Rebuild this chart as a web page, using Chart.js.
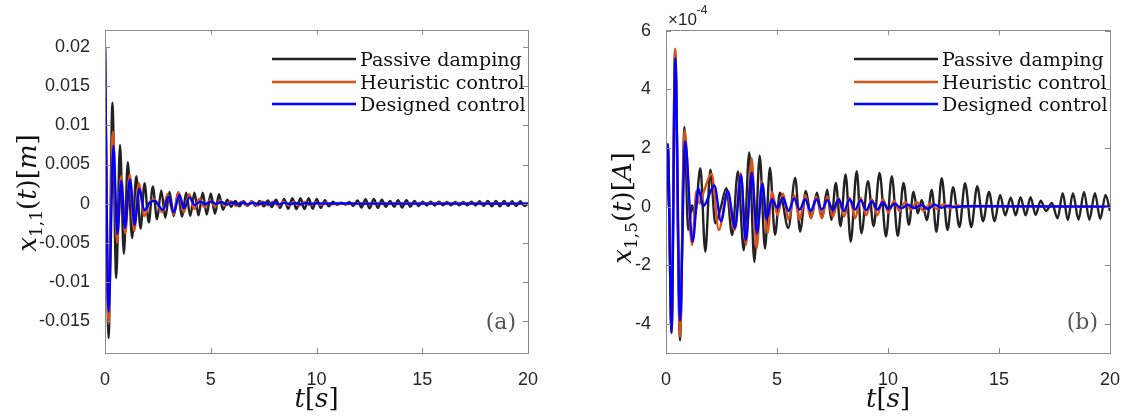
<!DOCTYPE html>
<html><head><meta charset="utf-8">
<script src="https://cdn.jsdelivr.net/npm/chart.js@4.4.1/dist/chart.umd.min.js"></script>
<style>
html,body{margin:0;padding:0;background:#fff;}
#wrap{position:relative;width:1135px;height:418px;overflow:hidden;background:#fff;}
.pane{position:absolute;top:0;height:418px;}
#pa{left:0;width:560px;}
#pb{left:560px;width:575px;}
</style></head><body>
<div id="wrap">
  <div class="pane" id="pa"><canvas id="ca" width="560" height="418"></canvas></div>
  <div class="pane" id="pb"><canvas id="cb" width="575" height="418"></canvas></div>
</div>
<script>
// ---------- shared ----------
const seriesNames = ['Passive damping', 'Heuristic control', 'Designed control'];
const xTicks = [0, 5, 10, 15, 20];

// ---------- panel (a): x_{1,1}(t) [m], values in units of 1e-3 m ----------
const tPassiveA = [0, 0.17, 0.35, 0.53, 0.71, 0.89, 1.08, 1.28, 1.48, 1.68, 1.87, 2.07, 2.26, 2.46, 2.66, 2.85, 3.05, 3.25, 3.45, 3.64,
  3.84, 4.03, 4.23, 4.42, 4.62, 4.81, 5.00, 5.20, 5.39, 5.58, 5.78, 5.97, 6.16, 6.35, 6.55, 6.74, 6.93, 7.12, 7.32, 7.51,
  7.70, 7.89, 8.09, 8.28, 8.47, 8.66, 8.86, 9.05, 9.24, 9.43, 9.63, 9.82, 10.01, 10.20, 10.40, 10.59, 10.78, 10.97, 11.17, 11.36,
  11.55, 11.74, 11.94, 12.13, 12.32, 12.51, 12.71, 12.90, 13.09, 13.28, 13.48, 13.67, 13.86, 14.05, 14.25, 14.44, 14.63, 14.82, 15.02, 15.21,
  15.40, 15.59, 15.79, 15.98, 16.17, 16.36, 16.56, 16.75, 16.94, 17.13, 17.33, 17.52, 17.71, 17.90, 18.10, 18.29, 18.48, 18.67, 18.87, 19.06,
  19.25, 19.44, 19.64, 19.83, 20.0];
const passiveA = [20, -17.2, 12.9, -9.5, 7.5, -6.4, 5.3, -4.4, 3.5, -3.2, 2.6, -2.4, 2.2, -2.0, 1.7, -1.8, 1.5, -1.6, 1.4, -1.7,
  1.4, -1.6, 1.4, -1.5, 1.4, -1.4, 1.3, -1.3, 1.2, -0.8, 0.5, -0.4, 0.35, -0.35, 0.3, -0.3, 0.3, -0.3, 0.35, -0.35,
  0.4, -0.45, 0.5, -0.55, 0.6, -0.65, 0.7, -0.7, 0.7, -0.7, 0.7, -0.65, 0.6, -0.55, 0.45, -0.35, 0.25, -0.15, 0.12, -0.12,
  0.2, -0.3, 0.4, -0.5, 0.55, -0.6, 0.6, -0.55, 0.5, -0.4, 0.35, -0.4, 0.45, -0.5, 0.45, -0.4, 0.35, -0.3, 0.25, -0.25,
  0.25, -0.25, 0.25, -0.2, 0.2, -0.2, 0.2, -0.2, 0.2, -0.2, 0.25, -0.25, 0.3, -0.3, 0.35, -0.35, 0.35, -0.35, 0.35, -0.3,
  0.3, -0.3, 0.3, -0.3, 0];

const tHeuristicA = [0, 0.17, 0.37, 0.57, 0.77, 0.96, 1.17, 1.38, 1.6, 1.86, 2.1, 2.34, 2.72, 2.95, 3.25, 3.47, 3.73, 3.98, 4.22, 4.45,
  4.7, 4.95, 5.2, 5.45, 5.7, 5.95, 6.2, 6.45, 6.7, 6.95, 7.2, 7.45, 7.7, 7.95, 8.2, 8.45, 8.7, 8.95, 9.2, 9.45,
  9.7, 9.95, 10.2, 10.45, 10.7, 11, 11.5, 12, 12.5, 13, 20];
const heuristicA = [20, -15.3, 9.2, -5.0, 3.5, -3.8, 3.7, -3.5, 2.6, -1.6, 0.1, 0.5, -1.1, 1.2, -1.4, 1.5, -1.1, 1.2, -0.7, 0.6,
  -0.45, 0.4, -0.35, 0.35, -0.3, 0.3, -0.3, 0.25, -0.25, 0.25, -0.25, 0.25, -0.2, 0.25, -0.25, 0.25, -0.25, 0.2, -0.25, 0.2,
  -0.2, 0.15, -0.15, 0.12, -0.1, 0.05, -0.05, 0.05, -0.03, 0.02, 0];

const tDesignedA = [0, 0.17, 0.4, 0.58, 0.77, 0.94, 1.18, 1.4, 1.62, 1.86, 2.1, 2.34, 2.74, 3.0, 3.25, 3.52, 3.73, 4.0, 4.25, 4.5,
  4.75, 5.0, 5.25, 5.5, 5.75, 6.0, 6.25, 6.5, 6.75, 7.0, 7.25, 7.5, 7.75, 8.0, 8.25, 8.5, 8.75, 9.0, 9.25, 9.5,
  9.75, 10.0, 10.5, 11, 12, 20];
const designedA = [20, -13.8, 7.4, -3.9, 2.9, -3.1, 3.1, -2.7, 1.9, -0.9, 0.1, 0.35, -0.8, 0.9, -1.1, 1.1, -0.6, 0.8, -0.2, 0.25,
  -0.1, 0.25, -0.05, 0.2, -0.1, 0.15, -0.1, 0.15, -0.1, 0.12, -0.1, 0.12, -0.1, 0.15, -0.1, 0.12, -0.08, 0.08, -0.06, 0.06,
  -0.04, 0.04, 0, 0.02, 0, 0];

const yTicksA = [-0.015, -0.01, -0.005, 0, 0.005, 0.01, 0.015, 0.02];
const yLabelsA = ['-0.015', '-0.01', '-0.005', '0', '0.005', '0.01', '0.015', '0.02'];

// ---------- panel (b): x_{1,5}(t) [A], values in units of 1e-4 A ----------
const tPassiveB = [0, 0.08, 0.25, 0.41, 0.63, 0.83, 1.0, 1.17, 1.3, 1.55, 1.77, 2.0, 2.22, 2.46, 2.72, 2.98, 3.24, 3.5, 3.75, 3.98,
  4.22, 4.46, 4.68, 4.91, 5.13, 5.51, 5.82, 6.04, 6.3, 6.54, 6.8, 7.03, 7.26, 7.45, 7.65, 7.86, 8.09, 8.32, 8.59, 8.8,
  9.1, 9.35, 9.62, 9.91, 10.17, 10.44, 10.7, 10.94, 11.15, 11.34, 11.52, 11.75, 11.97, 12.18, 12.42, 12.68, 12.93, 13.22, 13.47, 13.75,
  14.02, 14.28, 14.55, 14.8, 15.05, 15.28, 15.53, 15.75, 15.97, 16.2, 16.42, 16.65, 16.88, 17.12, 17.38, 17.64, 17.87, 18.1, 18.33, 18.58,
  18.83, 19.07, 19.32, 19.56, 19.8, 20.0];
const passiveB = [0, 2.1, -4.2, 5.37, -4.57, 2.72, -0.8, 0.05, -0.3, 1.31, -1.54, 1.26, -0.57, -0.05, 0.63, -0.97, 1.2, -1.49, 1.85, -1.89,
  1.74, -1.43, 1.33, -0.96, 0.47, -0.73, 0.98, -0.85, 0.53, -0.39, 0.47, -0.39, 0.58, -0.45, 0.81, -0.67, 1.1, -1.2, 1.21, -0.91,
  0.87, -0.67, 1.15, -1.02, 1.04, -1.0, 0.81, -0.62, 0.51, -0.23, 0.23, -0.46, 0.57, -0.86, 0.97, -0.8, 0.66, -0.7, 0.8, -0.7,
  0.7, -0.5, 0.5, -0.5, 0.4, -0.3, 0.3, -0.3, 0.32, -0.3, 0.32, -0.28, 0.2, -0.15, 0.12, -0.4, 0.46, -0.46, 0.46, -0.45,
  0.5, -0.45, 0.46, -0.42, 0.4, -0.15];

const tHeuristicB = [0, 0.08, 0.25, 0.41, 0.63, 0.84, 1.17, 1.37, 1.52, 1.7, 2.05, 2.38, 2.76, 3.09, 3.37, 3.6, 3.86, 4.08, 4.32, 4.57,
  4.78, 5.02, 5.27, 5.52, 5.77, 6.02, 6.27, 6.52, 6.77, 7.02, 7.27, 7.52, 7.77, 8.02, 8.27, 8.52, 8.77, 9.02, 9.27, 9.52,
  9.77, 10.02, 10.27, 10.52, 10.77, 11.02, 11.3, 11.6, 11.9, 12.2, 12.5, 12.8, 13.1, 13.4, 13.8, 20];
const heuristicB = [0, 2.1, -4.33, 5.39, -4.45, 2.6, -1.31, 0.53, 0.1, 0.5, 1.12, -0.8, 0.46, -0.8, 1.14, -1.31, 1.66, -1.43, 0.86, -0.91,
  0.5, -0.3, 0.45, -0.45, 0.4, -0.45, 0.4, -0.4, 0.35, -0.4, 0.35, -0.35, 0.3, -0.35, 0.3, -0.4, 0.3, -0.3, 0.25, -0.3,
  0.25, -0.2, 0.2, -0.15, 0.15, -0.1, 0.15, -0.15, 0.1, -0.08, 0.08, -0.06, 0.05, -0.03, 0.02, 0];

const tDesignedB = [0, 0.08, 0.25, 0.42, 0.63, 0.86, 1.2, 1.46, 1.68, 2.18, 2.48, 2.78, 3.11, 3.38, 3.59, 3.86, 4.1, 4.34, 4.53, 4.77,
  5.02, 5.27, 5.52, 5.77, 6.02, 6.27, 6.52, 6.77, 7.02, 7.27, 7.52, 7.77, 8.02, 8.27, 8.52, 8.77, 9.02, 9.27, 9.52, 9.77,
  10.02, 10.3, 10.6, 10.9, 11.2, 11.5, 11.8, 12.1, 12.4, 12.7, 13.0, 13.4, 20];
const designedB = [0, 2.14, -4.3, 5.07, -3.9, 2.22, -1.2, 0.62, 0.02, 0.72, -0.5, 0.53, -0.73, 1.07, -1.14, 1.16, -0.9, 0.79, -0.42, 0.25,
  -0.05, 0.3, -0.15, 0.28, -0.1, 0.25, -0.15, 0.25, -0.1, 0.22, -0.12, 0.25, -0.15, 0.25, -0.1, 0.22, -0.12, 0.18, -0.1, 0.15,
  -0.08, 0.1, -0.06, 0.06, -0.05, 0.05, -0.08, 0.06, -0.04, 0.03, -0.02, 0.01, 0];

const yTicksB = [-4, -2, 0, 2, 4, 6];
const yLabelsB = ['-4', '-2', '0', '2', '4', '6'];

// ---------- helpers ----------
const COLORS = ['#222222', '#D95319', '#0000FF'];
function zip(t, v, k) {
  const n = Math.min(t.length, v.length), out = [];
  for (let i = 0; i < n; i++) out.push({ x: t[i], y: v[i] * k });
  return out;
}
function ds(i, data) {
  return { label: seriesNames[i], data, borderColor: COLORS[i], backgroundColor: COLORS[i],
    borderWidth: 2.4, pointRadius: 0, cubicInterpolationMode: 'monotone', fill: false, order: 3 - i };
}
const SERIF = '"DejaVu Serif", "Liberation Serif", serif';
const SANS = '"Liberation Sans", Arial, sans-serif';

function drawRich(ctx, parts, cx, y) {
  let w = 0;
  for (const p of parts) { ctx.font = p.font; w += ctx.measureText(p.text).width; }
  let x = cx - w / 2;
  for (const p of parts) { ctx.font = p.font; ctx.fillText(p.text, x, y + (p.dy || 0)); x += ctx.measureText(p.text).width; }
}

function framePlugin(cfg) {
  return {
    id: 'frame_' + cfg.tag,
    afterDraw(chart) {
      const ctx = chart.ctx;
      const { left, right, top, bottom } = chart.chartArea;
      const xs = chart.scales.x, ys = chart.scales.y;
      ctx.save();
      // box
      ctx.strokeStyle = '#8a8a8a';
      ctx.lineWidth = 1;
      ctx.strokeRect(Math.round(left) + 0.5, Math.round(top) + 0.5, Math.round(right - left), Math.round(bottom - top));
      // inner ticks
      ctx.beginPath();
      for (const v of xTicks) {
        const px = Math.round(xs.getPixelForValue(v)) + 0.5;
        ctx.moveTo(px, bottom); ctx.lineTo(px, bottom - 5);
        ctx.moveTo(px, top); ctx.lineTo(px, top + 5);
      }
      for (const v of cfg.yTicks) {
        const py = Math.round(ys.getPixelForValue(v)) + 0.5;
        ctx.moveTo(left, py); ctx.lineTo(left + 5, py);
        ctx.moveTo(right, py); ctx.lineTo(right - 5, py);
      }
      ctx.stroke();

      // legend (no box)
      const legY = [top + 29, top + 52, top + 74];
      ctx.font = '19px ' + SERIF;
      const wRef = ctx.measureText(seriesNames[0]).width;
      const fs = Math.max(15, Math.min(22, 19 * 162 / wRef));
      for (let i = 0; i < 3; i++) {
        ctx.strokeStyle = COLORS[i];
        ctx.lineWidth = 2.6;
        ctx.beginPath();
        ctx.moveTo(right - 256, legY[i]);
        ctx.lineTo(right - 172, legY[i]);
        ctx.stroke();
        ctx.fillStyle = '#111';
        ctx.font = fs.toFixed(1) + 'px ' + SERIF;
        ctx.textAlign = 'left';
        ctx.textBaseline = 'alphabetic';
        ctx.fillText(seriesNames[i], right - 168, legY[i] + 7);
      }

      // panel tag
      ctx.fillStyle = '#555';
      ctx.font = '22px ' + SERIF;
      ctx.textAlign = 'right';
      ctx.fillText(cfg.tagText, right - 12, bottom - 24);

      // x title  t[s]
      ctx.fillStyle = '#111';
      ctx.textAlign = 'left';
      const it = 'italic 26px ' + SERIF, up = '26px ' + SERIF;
      drawRich(ctx, [{ text: 't', font: it }, { text: '[', font: up }, { text: 's', font: it }, { text: ']', font: up }],
        (left + right) / 2, 407);

      // y title (rotated)
      ctx.save();
      ctx.translate(cfg.yTitleX, cfg.yTitleY);
      ctx.rotate(-Math.PI / 2);
      const sub = '17px ' + SERIF;
      drawRich(ctx, [
        { text: 'x', font: it },
        { text: cfg.sub, font: sub, dy: 6 },
        { text: '(', font: up }, { text: 't', font: it }, { text: ')', font: up },
        { text: '[', font: up }, { text: cfg.unit, font: it }, { text: ']', font: up }
      ], 0, 9);
      ctx.restore();

      // exponent label
      if (cfg.exponent) {
        ctx.fillStyle = '#262626';
        ctx.textAlign = 'left';
        ctx.font = '17px ' + SANS;
        const x0 = left + 2;
        ctx.fillText('\u00d710', x0, 25);
        const w = ctx.measureText('\u00d710').width;
        ctx.font = '12px ' + SANS;
        ctx.fillText(cfg.exponent, x0 + w, 14);
      }
      ctx.restore();
    }
  };
}

function makeChart(id, cfg) {
  return new Chart(document.getElementById(id), {
    type: 'line',
    data: { datasets: cfg.datasets },
    options: {
      responsive: false, animation: false, events: [], devicePixelRatio: 1,
      layout: { padding: { top: 30, right: cfg.padRight, left: 0, bottom: 0 } },
      plugins: { legend: { display: false }, tooltip: { enabled: false } },
      scales: {
        x: {
          type: 'linear', min: 0, max: 20,
          grid: { display: false }, border: { display: false },
          afterBuildTicks: (s) => { s.ticks = xTicks.map(v => ({ value: v })); },
          afterFit: (s) => { s.height = 65; },
          ticks: { padding: 8, color: '#262626', font: { family: SANS, size: 18 }, maxRotation: 0, autoSkip: false,
            callback: (v) => String(v) }
        },
        y: {
          type: 'linear', min: cfg.yMin, max: cfg.yMax,
          grid: { display: false }, border: { display: false },
          afterBuildTicks: (s) => { s.ticks = cfg.yTicks.map(v => ({ value: v })); },
          afterFit: (s) => { s.width = cfg.axisLeft; },
          ticks: { padding: 7, color: '#262626', font: { family: SANS, size: 18 }, autoSkip: false,
            callback: (v, i) => cfg.yLabels[i] }
        }
      }
    },
    plugins: [framePlugin(cfg)]
  });
}

makeChart('ca', {
  tag: 'a', tagText: '(a)', sub: '1,1', unit: 'm',
  yMin: -0.0191, yMax: 0.0222, yTicks: yTicksA, yLabels: yLabelsA,
  axisLeft: 105, padRight: 32, yTitleX: 27, yTitleY: 193,
  datasets: [
    ds(0, zip(tPassiveA, passiveA, 1e-3)),
    ds(1, zip(tHeuristicA, heuristicA, 1e-3)),
    ds(2, zip(tDesignedA, designedA, 1e-3))
  ]
});
makeChart('cb', {
  tag: 'b', tagText: '(b)', sub: '1,5', unit: 'A', exponent: '-4',
  yMin: -5, yMax: 6.03, yTicks: yTicksB, yLabels: yLabelsB,
  axisLeft: 106, padRight: 25, yTitleX: 62, yTitleY: 208,
  datasets: [
    ds(0, zip(tPassiveB, passiveB, 1)),
    ds(1, zip(tHeuristicB, heuristicB, 1)),
    ds(2, zip(tDesignedB, designedB, 1))
  ]
});
</script>
</body></html>
